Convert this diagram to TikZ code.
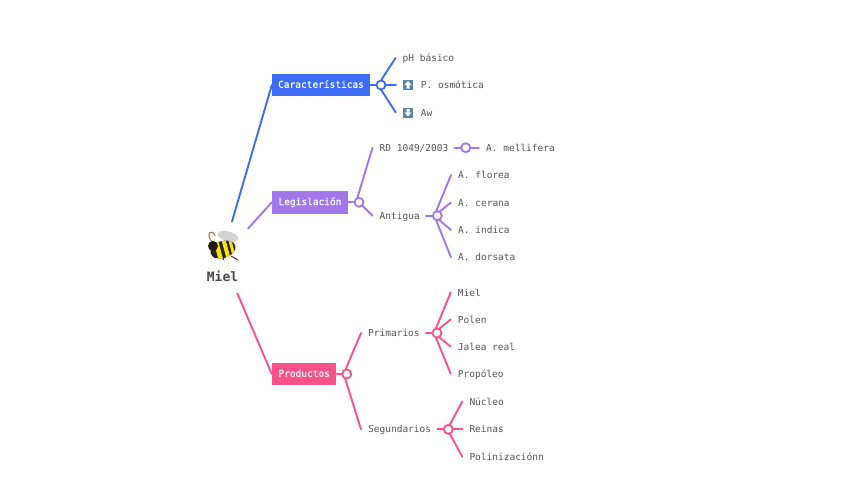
\documentclass[tikz,border=0pt]{standalone}
\usepackage{fontspec}
\setmainfont{DejaVu Sans Mono}
\definecolor{cblue}{HTML}{3D6DF5}
\definecolor{cpurple}{HTML}{A277EE}
\definecolor{cpink}{HTML}{F9528A}
\definecolor{ctext}{HTML}{555555}
\definecolor{cicon}{HTML}{5B86A8}
\newfontfamily\boxfont[FakeBold=0.35]{DejaVu Sans Mono}
\tikzset{
  conn/.style={line width=1.9pt,line cap=round},
  hub/.style={circle,draw,fill=white,line width=1.8pt,minimum size=9pt,inner sep=0pt},
  catbox/.style={rectangle,minimum height=22.5pt,inner sep=0pt,text=white,text height=7.5pt,text depth=2pt,font=\boxfont\fontsize{9.5}{11}\selectfont},
  leaf/.style={anchor=west,inner sep=0pt,text=ctext,font=\fontsize{9.5}{11}\selectfont,text height=8pt,text depth=1pt},
  updown/.style={rectangle,fill=cicon,minimum size=10pt,inner sep=0pt},
}
\begin{document}
\begin{tikzpicture}[x=1pt,y=-1pt]
\useasboundingbox[fill=white] (0,0) rectangle (848,477);
% root
\node[inner sep=0pt,text=ctext!85!black,font=\fontsize{13}{15}\selectfont\bfseries] (miel) at (222.5,276.3) {Miel};
\coordinate (rootA) at (232,221.5);
\coordinate (rootB) at (248,228.7);
\coordinate (rootC) at (237.3,293.3);
% categories
\node[catbox,fill=cblue,minimum width=98pt] (car) at (321,85) {Características};
\node[catbox,fill=cpurple,minimum width=76pt] (leg) at (310,202.3) {Legislación};
\node[catbox,fill=cpink,minimum width=64.5pt] (pro) at (304.2,374) {Productos};
% leaves
\node[leaf] (ph) at (402.5,58) {pH básico};
\node[updown] (icu) at (408,85) {};
\node[updown] (icd) at (408,112.5) {};
\node[leaf] (po) at (420.7,85) {P. osmótica};
\node[leaf] (aw) at (420.7,112.5) {Aw};
\node[leaf] (rd) at (379.5,147.7) {RD 1049/2003};
\node[leaf] (am) at (486,147.7) {A. mellifera};
\node[leaf] (ant) at (379.5,215.7) {Antigua};
\node[leaf] (af) at (458,175) {A. florea};
\node[leaf] (ac) at (458,202.5) {A. cerana};
\node[leaf] (ai) at (458,230) {A. indica};
\node[leaf] (ad) at (458,257.3) {A. dorsata};
\node[leaf] (pri) at (368,333) {Primarios};
\node[leaf] (seg) at (368,429.3) {Segundarios};
\node[leaf] (m2) at (457.7,292.5) {Miel};
\node[leaf] (pl) at (457.7,319.5) {Polen};
\node[leaf] (jr) at (457.7,346.7) {Jalea real};
\node[leaf] (pp) at (457.7,373.7) {Propóleo};
\node[leaf] (nu) at (469.3,401.5) {Núcleo};
\node[leaf] (re) at (469.3,429.3) {Reinas};
\node[leaf] (pz) at (469.3,456.7) {Polinizaciónn};
% connector geometry (hub positions)
\coordinate (c1) at (381,85);
\coordinate (c2) at (359,202.3);
\coordinate (c3) at (465.7,147.7);
\coordinate (c4) at (437.3,215.7);
\coordinate (c5) at (346.7,374);
\coordinate (c6) at (437,333);
\coordinate (c7) at (448.3,429.3);
% connectors
\draw[conn,cblue] (rootA) -- (car.west);
\draw[conn,cpurple] (rootB) -- (leg.west);
\draw[conn,cpink] (rootC) -- (pro.west);
\draw[conn,cblue] (car.east) -- (c1) -- ([xshift=-7pt]icu.west);
\draw[conn,cblue] ([xshift=-3pt]c1) -- ([xshift=-7pt]ph.west);
\draw[conn,cblue] ([xshift=-3pt]c1) -- ([xshift=-7pt]icd.west);
\draw[conn,cpurple] (leg.east) -- (c2);
\draw[conn,cpurple] ([xshift=-3pt]c2) -- ([xshift=-7pt]rd.west);
\draw[conn,cpurple] (c2) -- ([xshift=-7pt]ant.west);
\draw[conn,cpurple] ([xshift=6pt]rd.east) -- (c3) -- ([xshift=-7pt]am.west);
\draw[conn,cpurple] ([xshift=6pt]ant.east) -- (c4);
\foreach \t in {af,ac,ai,ad} \draw[conn,cpurple] ([xshift=-3pt]c4) -- ([xshift=-7pt]\t.west);
\draw[conn,cpink] (pro.east) -- (c5);
\draw[conn,cpink] ([xshift=-3pt]c5) -- ([xshift=-7pt]pri.west);
\draw[conn,cpink] ([xshift=-3pt]c5) -- ([xshift=-7pt]seg.west);
\draw[conn,cpink] ([xshift=6pt]pri.east) -- (c6);
\foreach \t in {m2,pl,jr,pp} \draw[conn,cpink] ([xshift=-3pt]c6) -- ([xshift=-7pt]\t.west);
\draw[conn,cpink] ([xshift=6pt]seg.east) -- (c7) -- ([xshift=-7pt]re.west);
\draw[conn,cpink] ([xshift=-1pt]c7) -- ([xshift=-7pt]nu.west);
\draw[conn,cpink] ([xshift=-1pt]c7) -- ([xshift=-7pt]pz.west);
% hubs
\node[hub,draw=cblue] (h1) at (c1) {};
\node[hub,draw=cpurple] (h2) at (c2) {};
\node[hub,draw=cpurple] (h3) at (c3) {};
\node[hub,draw=cpurple] (h4) at (c4) {};
\node[hub,draw=cpink] (h5) at (c5) {};
\node[hub,draw=cpink] (h6) at (c6) {};
\node[hub,draw=cpink] (h7) at (c7) {};
% arrows in icons
\fill[white] (408,81) -- (411.5,85) -- (409.5,85) -- (409.5,88.5) -- (406.5,88.5) -- (406.5,85) -- (404.5,85) -- cycle;
\fill[white] (408,116.5) -- (411.5,112.5) -- (409.5,112.5) -- (409.5,109) -- (406.5,109) -- (406.5,112.5) -- (404.5,112.5) -- cycle;
% bee
\draw[line width=1.2pt,brown!50!gray] (213,243) .. controls (209,239) and (208,235) .. (210,232.5) .. controls (212,231) and (214,233) .. (215,236);
\draw[line width=1pt,black!80] (217,255) -- (214,258);
\draw[line width=1pt,black!80] (224,257) -- (223,260);
\draw[line width=1pt,black!80] (231,256) -- (238,260);
\fill[gray!35,rotate around={-15:(228,236.5)}] (228,236.5) ellipse (10.5pt and 5pt);
\fill[black!85,rotate around={18:(223,249.5)}] (223,249.5) ellipse (13pt and 8.5pt);
\begin{scope}
\clip[rotate around={18:(223,249.5)}] (223,249.5) ellipse (13pt and 8.5pt);
\fill[yellow!85!orange,rotate around={15:(218,248)}] (215.5,236) rectangle (220,262);
\fill[yellow!85!orange,rotate around={15:(226,249)}] (224,236) rectangle (228,262);
\fill[yellow!85!orange,rotate around={15:(232,250)}] (231,236) rectangle (234,264);
\end{scope}
\fill[black!80!brown] (213,246) circle (5pt);
\end{tikzpicture}
\end{document}
